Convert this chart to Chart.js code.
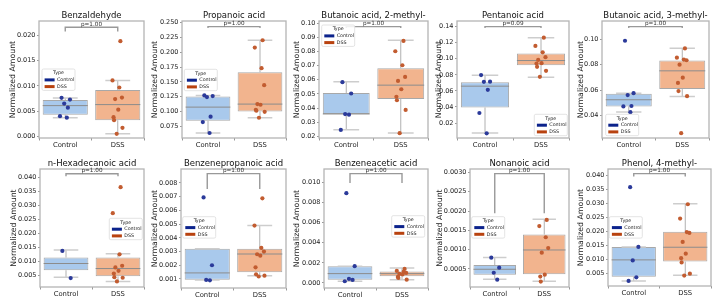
<!DOCTYPE html>
<html>
<head>
<meta charset="utf-8">
<script src="https://cdn.jsdelivr.net/npm/chart.js@4.4.1/dist/chart.umd.min.js"></script>
<style>
    html, body { margin: 0; padding: 0; background: #fff; }
    #wrap { position: relative; width: 716px; height: 302px; overflow: hidden; }
    #wrap canvas { position: absolute; left: 0; top: 0; }
</style>
</head>
<body>
<div id="wrap"></div>
<script>
// Дані
const metabolites = ["Benzaldehyde", "Propanoic acid", "Butanoic acid, 2-methyl-", "Pentanoic acid", "Butanoic acid, 3-methyl-",
    "n-Hexadecanoic acid", "Benzenepropanoic acid", "Benzeneacetic acid", "Nonanoic acid", "Phenol, 4-methyl-"];
const groups = ["Control", "DSS"];
const legendTitle = "Type";
const yAxisTitle = "Normalized Amount";
const pValues = ["p=1.00", "p=1.00", "p=1.00", "p=0.09", "p=1.00", "p=1.00", "p=1.00", "p=1.00", "p=1.00", "p=1.00"];

// [нижній вус, Q1, медіана, Q3, верхній вус]
const controlBox = [
    [0.0037, 0.0043, 0.0061, 0.0072, 0.0076],
    [0.0638, 0.0845, 0.1075, 0.1255, 0.1272],
    [0.0247, 0.0358, 0.0358, 0.0506, 0.0586],
    [0.0076, 0.0394, 0.0659, 0.0709, 0.0796],
    [0.0429, 0.0473, 0.0525, 0.0572, 0.0577],
    [0.0043, 0.0068, 0.0092, 0.01135, 0.0140],
    [0.00093, 0.00095, 0.00144, 0.00321, 0.00321],
    [0.00017, 0.00033, 0.00093, 0.00167, 0.00167],
    [0.00023, 0.00035, 0.00049, 0.00060, 0.000795],
    [0.0024, 0.0039, 0.0099, 0.0145, 0.0145]
];
const dssBox = [
    [0.0005, 0.0032, 0.0063, 0.0092, 0.0111],
    [0.0896, 0.1002, 0.1126, 0.1664, 0.2203],
    [0.0224, 0.0464, 0.0562, 0.0682, 0.0880],
    [0.0771, 0.0920, 0.0978, 0.1065, 0.1263],
    [0.0551, 0.0609, 0.0752, 0.0833, 0.0930],
    [0.0028, 0.0046, 0.0074, 0.01135, 0.0127],
    [0.00124, 0.00149, 0.00282, 0.00321, 0.00489],
    [0.00033, 0.00067, 0.00093, 0.00113, 0.00150],
    [0.00018, 0.00036, 0.00099, 0.00139, 0.00179],
    [0.0044, 0.0093, 0.0144, 0.0199, 0.0299]
];
const controlPoints = [
    [0.00764, 0.0073, 0.0065, 0.0057, 0.0040, 0.0037],
    [0.1272, 0.1261, 0.1244, 0.0913, 0.0823, 0.0638],
    [0.0583, 0.0503, 0.0357, 0.0353, 0.0245],
    [0.0797, 0.0715, 0.0713, 0.0613, 0.0325, 0.0072],
    [0.0988, 0.0577, 0.0562, 0.0476, 0.0473, 0.0428],
    [0.0137, 0.0040],
    [0.00695, 0.0020, 0.00093, 0.0009],
    [0.00893, 0.00167, 0.0004, 0.0003, 0.00017],
    [0.00079, 0.00053, 0.0004, 0.00022],
    [0.0358, 0.0145, 0.0097, 0.0037, 0.0024]
];
const dssPoints = [
    [0.0189, 0.0111, 0.0097, 0.0077, 0.0074, 0.0053, 0.0038, 0.0032, 0.0017, 0.0005],
    [0.2203, 0.2079, 0.1732, 0.1446, 0.1126, 0.1115, 0.1030, 0.1014, 0.0995, 0.0896],
    [0.0875, 0.0802, 0.0703, 0.0620, 0.0592, 0.0533, 0.0480, 0.0455, 0.0387, 0.0222],
    [0.1263, 0.1160, 0.1080, 0.1020, 0.0985, 0.0945, 0.0940, 0.0900, 0.0850, 0.0775],
    [0.0928, 0.0855, 0.0840, 0.0835, 0.0800, 0.0698, 0.0657, 0.0593, 0.0553, 0.0263],
    [0.0365, 0.0272, 0.0125, 0.0084, 0.0078, 0.0066, 0.0056, 0.0043, 0.0041, 0.0028],
    [0.00688, 0.00489, 0.00326, 0.0030, 0.0028, 0.0027, 0.00185, 0.00134, 0.00124, 0.00118],
    [0.0014, 0.0012, 0.0011, 0.0010, 0.0009, 0.00085, 0.0006, 0.0005, 0.00033],
    [0.00177, 0.00161, 0.00132, 0.00104, 0.00092, 0.00035, 0.00030, 0.00017],
    [0.0297, 0.0246, 0.0198, 0.0195, 0.0163, 0.0121, 0.0105, 0.0090, 0.0050, 0.0043]
];
// [низ ніжок, верх дужки]
const bracketLevels = [
    [0.0208, 0.02166], [0.2410, 0.2433], [0.0967, 0.0976], [0.1383, 0.1400], [0.1089, 0.1099],
    [0.0404, 0.0413], [0.00756, 0.00868], [0.00993, 0.01087], [0.00194, 0.00297], [0.0396, 0.0406]
];
const yTickLabels = [
    ["0.000", "0.005", "0.010", "0.015", "0.020"],
    ["0.075", "0.100", "0.125", "0.150", "0.175", "0.200", "0.225", "0.250"],
    ["0.02", "0.03", "0.04", "0.05", "0.06", "0.07", "0.08", "0.09", "0.10"],
    ["0.02", "0.04", "0.06", "0.08", "0.10", "0.12", "0.14"],
    ["0.04", "0.06", "0.08", "0.10"],
    ["0.005", "0.010", "0.015", "0.020", "0.025", "0.030", "0.035", "0.040"],
    ["0.001", "0.002", "0.003", "0.004", "0.005", "0.006", "0.007", "0.008"],
    ["0.000", "0.002", "0.004", "0.006", "0.008", "0.010"],
    ["0.0005", "0.0010", "0.0015", "0.0020", "0.0025", "0.0030"],
    ["0.005", "0.010", "0.015", "0.020", "0.025", "0.030", "0.035", "0.040"]
];
const yRanges = [
    [-0.00033, 0.0229], [0.0554, 0.2528], [0.0188, 0.1016], [0.0014, 0.147], [0.0225, 0.1143],
    [0.0008, 0.043], [0.00034, 0.00902], [-0.0005, 0.01133], [0.00003, 0.00309], [0.0006, 0.04226]
];

// Розмітка: [ліво, верх, право, низ області, x підпису осі, x легенди, y легенди]
const frames = [
    [39, 21, 144, 138, 13, 42, 69],
    [182, 21, 286, 138, 155, 184.3, 69.3],
    [319, 21, 428, 138, 297, 321.7, 25],
    [457, 21, 569, 138, 439, 534.3, 114.3],
    [602, 21, 709, 138, 581, 605.7, 114.3],
    [40, 169, 144, 287, 14, 109.3, 218.3],
    [181, 169, 286, 288, 155, 182.7, 216.7],
    [324, 169, 428, 288, 297, 391.7, 215.7],
    [470, 169, 569, 287, 440, 471.7, 216.7],
    [608, 169, 711, 286, 581, 609.3, 216.7]
];

const FONT = "'DejaVu Sans', sans-serif";
const fills = ["#a9c9ec", "#f2b48e"];
const dots = ["#2b3a9a", "#c25c30"];
const legendColors = ["#0c238c", "#b8420f"];
const jitter = [-0.07, 0.09, -0.02, 0.05, -0.1, 0.03, 0.08, -0.05, 0.01, -0.08];

const wrap = document.getElementById("wrap");

function drawLegend(ctx, x, y) {
    const w = 33, h = 21.4;
    ctx.save();
    ctx.beginPath();
    ctx.roundRect(x, y, w, h, 1.5);
    ctx.fillStyle = "rgba(255,255,255,0.85)";
    ctx.fill();
    ctx.strokeStyle = "#dcdcdc";
    ctx.lineWidth = 0.8;
    ctx.stroke();
    ctx.font = "4.8px " + FONT;
    ctx.fillStyle = "#222";
    ctx.textAlign = "center";
    ctx.textBaseline = "middle";
    ctx.fillText(legendTitle, x + w / 2, y + 4.2);
    groups.forEach((g, k) => {
        const yy = y + 9.4 + k * 6.7;
        ctx.fillStyle = legendColors[k];
        ctx.fillRect(x + 2.6, yy, 10, 3);
        ctx.fillStyle = "#222";
        ctx.textAlign = "left";
        ctx.fillText(g, x + 15, yy + 1.5);
    });
    ctx.restore();
}

function makeChart(i) {
    const [L, T, R, B, tx, lx, ly] = frames[i];
    const canvas = document.createElement("canvas");
    canvas.width = 716;
    canvas.height = 302;
    wrap.appendChild(canvas);

    const padLeft = tx - 7.8 * 1.2 / 2;
    const tickValues = yTickLabels[i].map(Number);
    const boxes = [controlBox[i], dssBox[i]];

    const extras = {
        id: "extras" + i,
        afterDatasetDraw(chart, args) {
            if (args.index !== 0) return;
            const ctx = chart.ctx;
            const x = chart.scales.x, y = chart.scales.y;
            const bars = chart.getDatasetMeta(0).data;
            ctx.save();
            boxes.forEach((s, g) => {
                const xc = x.getPixelForValue(g);
                const half = bars[g].width / 2;
                const cap = half * 0.55;
                // вуса
                ctx.strokeStyle = "#b0b0b0";
                ctx.lineWidth = 1;
                ctx.beginPath();
                ctx.moveTo(xc, y.getPixelForValue(s[3]));
                ctx.lineTo(xc, y.getPixelForValue(s[4]));
                ctx.moveTo(xc, y.getPixelForValue(s[1]));
                ctx.lineTo(xc, y.getPixelForValue(s[0]));
                ctx.stroke();
                ctx.strokeStyle = "#cdcdcd";
                ctx.lineWidth = 1.5;
                ctx.beginPath();
                ctx.moveTo(xc - cap, y.getPixelForValue(s[4]));
                ctx.lineTo(xc + cap, y.getPixelForValue(s[4]));
                ctx.moveTo(xc - cap, y.getPixelForValue(s[0]));
                ctx.lineTo(xc + cap, y.getPixelForValue(s[0]));
                ctx.stroke();
                // медіана
                ctx.strokeStyle = "#8c8c8c";
                ctx.lineWidth = 1;
                ctx.beginPath();
                ctx.moveTo(xc - half, y.getPixelForValue(s[2]));
                ctx.lineTo(xc + half, y.getPixelForValue(s[2]));
                ctx.stroke();
            });
            ctx.restore();
        },
        afterDraw(chart) {
            const ctx = chart.ctx;
            const a = chart.chartArea;
            const x = chart.scales.x, y = chart.scales.y;
            ctx.save();
            // рамка
            ctx.strokeStyle = "#b4b4b4";
            ctx.lineWidth = 1.3;
            ctx.strokeRect(a.left, a.top, a.right - a.left, a.bottom - a.top);
            // заголовок
            ctx.fillStyle = "#111";
            ctx.font = "8.5px " + FONT;
            ctx.textAlign = "center";
            ctx.textBaseline = "middle";
            ctx.fillText(metabolites[i], (a.left + a.right) / 2, a.top - 5.5);
            // дужка з p-значенням
            const x0 = x.getPixelForValue(0), x1 = x.getPixelForValue(1);
            const yLeg = y.getPixelForValue(bracketLevels[i][0]);
            const yTop = y.getPixelForValue(bracketLevels[i][1]);
            ctx.strokeStyle = "#999";
            ctx.lineWidth = 1.4;
            ctx.beginPath();
            ctx.moveTo(x0, yLeg);
            ctx.lineTo(x0, yTop);
            ctx.lineTo(x1, yTop);
            ctx.lineTo(x1, yLeg);
            ctx.stroke();
            ctx.fillStyle = "#333";
            ctx.font = "5.7px " + FONT;
            ctx.textBaseline = "alphabetic";
            ctx.fillText(pValues[i], (x0 + x1) / 2, yTop - 1.5);
            ctx.restore();
            drawLegend(ctx, lx, ly);
        }
    };

    new Chart(canvas, {
        type: "bar",
        data: {
            datasets: [
                {
                    type: "bar",
                    data: boxes.map((s, g) => ({ x: g, y: [s[1], s[3]] })),
                    backgroundColor: fills,
                    borderColor: "#a8a8a8",
                    borderWidth: 1,
                    borderSkipped: false,
                    grouped: false,
                    categoryPercentage: 0.86,
                    barPercentage: 1,
                    order: 3
                },
                {
                    type: "scatter",
                    data: controlPoints[i].map((v, k) => ({ x: jitter[k % jitter.length], y: v })),
                    backgroundColor: dots[0],
                    borderWidth: 0,
                    pointRadius: 2.1,
                    order: 2
                },
                {
                    type: "scatter",
                    data: dssPoints[i].map((v, k) => ({ x: 1 + jitter[(k + 3) % jitter.length], y: v })),
                    backgroundColor: dots[1],
                    borderWidth: 0,
                    pointRadius: 2.1,
                    order: 1
                }
            ]
        },
        options: {
            responsive: false,
            animation: false,
            events: [],
            layout: { padding: { left: padLeft, top: T, right: 716 - R, bottom: 302 - B - 14 } },
            plugins: { legend: { display: false }, tooltip: { enabled: false }, title: { display: false } },
            scales: {
                x: {
                    type: "linear",
                    min: -0.5,
                    max: 1.5,
                    offset: false,
                    afterBuildTicks: s => { s.ticks = groups.map((g, k) => ({ value: k })); },
                    grid: { drawOnChartArea: false, drawTicks: true, tickLength: 2.5, color: "#999" },
                    border: { display: false },
                    ticks: {
                        autoSkip: false,
                        maxRotation: 0,
                        font: { family: FONT, size: 6.8 },
                        color: "#222",
                        padding: 1,
                        callback: (v, k) => groups[k]
                    },
                    afterFit: s => { s.height = 14; }
                },
                y: {
                    type: "linear",
                    min: yRanges[i][0],
                    max: yRanges[i][1],
                    afterBuildTicks: s => { s.ticks = tickValues.map(v => ({ value: v })); },
                    grid: { drawOnChartArea: false, drawTicks: true, tickLength: 2, color: "#999" },
                    border: { display: false },
                    ticks: {
                        autoSkip: false,
                        font: { family: FONT, size: 6.5 },
                        color: "#222",
                        padding: 1.5,
                        callback: (v, k) => yTickLabels[i][k]
                    },
                    title: { display: true, text: yAxisTitle, font: { family: FONT, size: 7.8 }, color: "#222", padding: 0 },
                    afterFit: s => { s.width = L - padLeft; }
                }
            }
        },
        plugins: [extras]
    });
}

metabolites.forEach((m, i) => makeChart(i));
</script>
</body>
</html>
